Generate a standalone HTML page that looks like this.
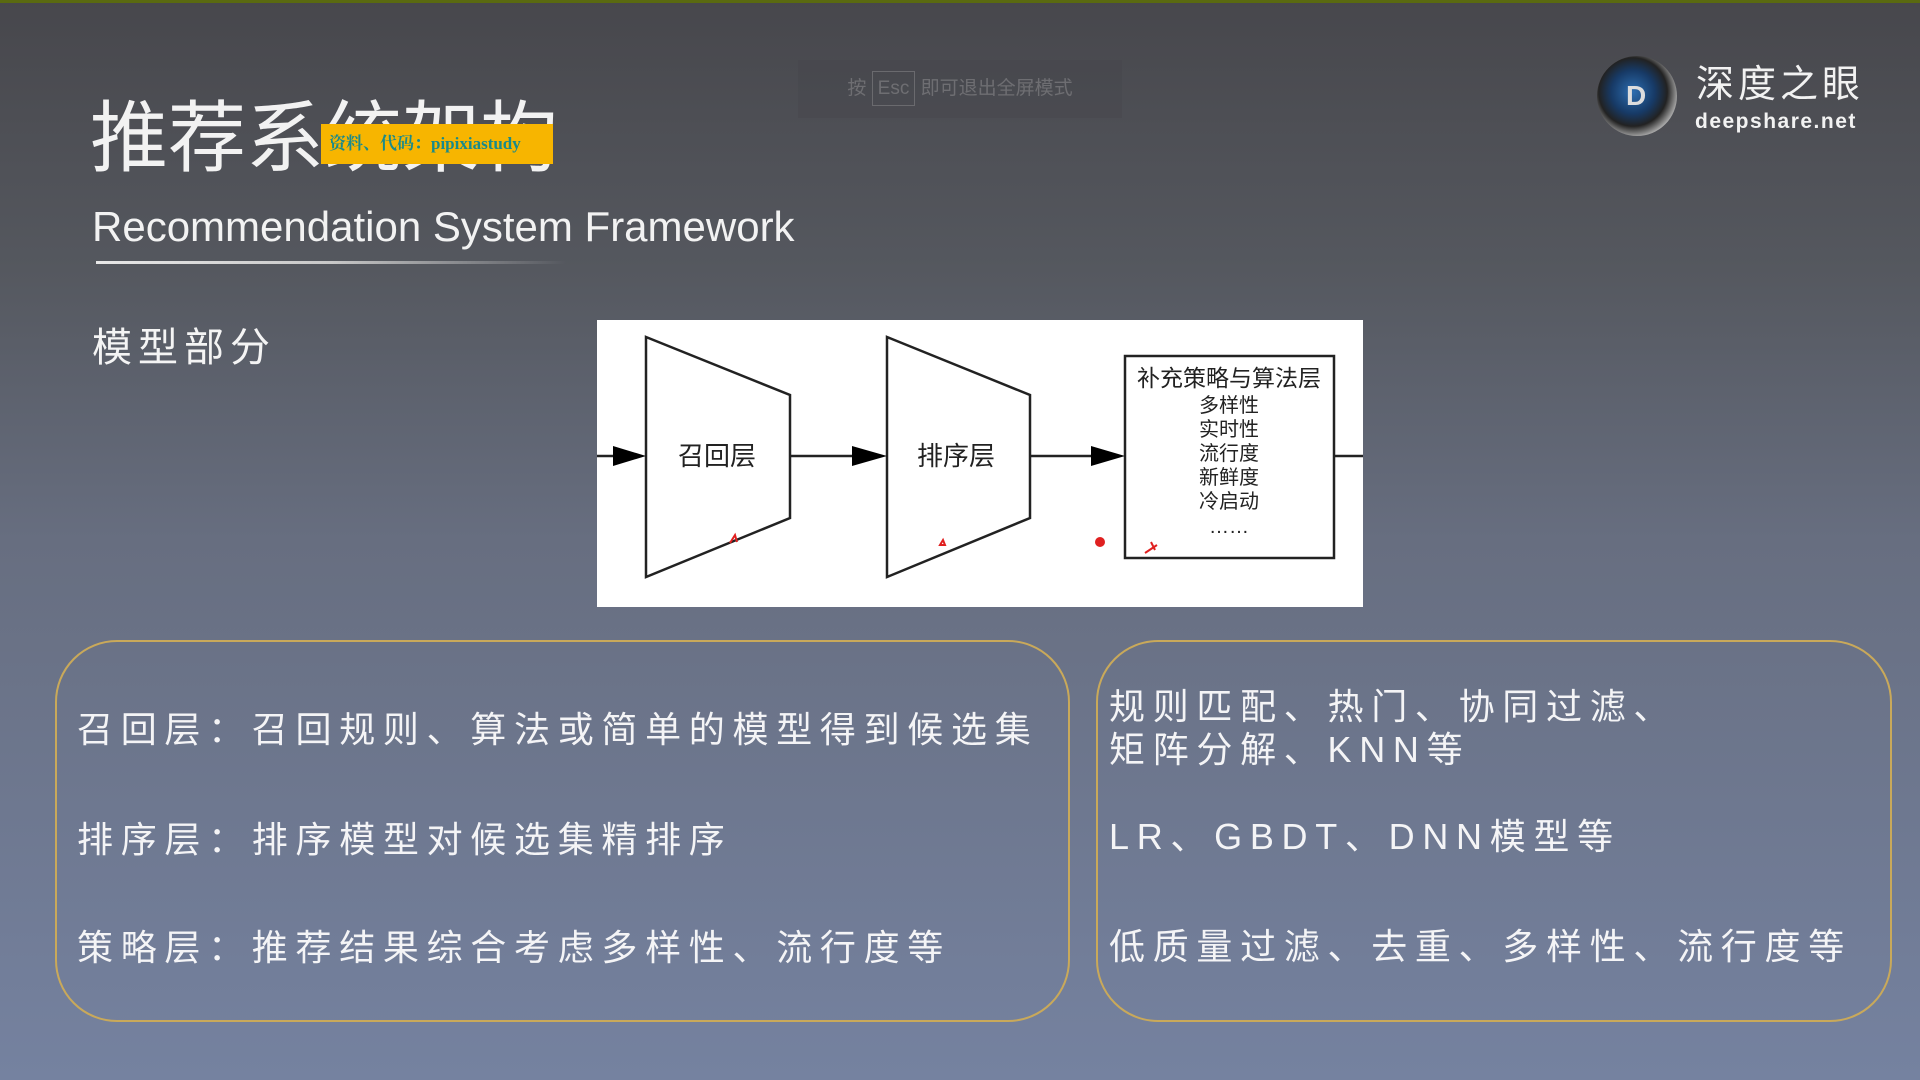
<!DOCTYPE html>
<html><head><meta charset="utf-8"><style>
*{margin:0;padding:0;box-sizing:border-box}
body{width:1920px;height:1080px;overflow:hidden;position:relative;font-family:"Liberation Sans","Noto Sans CJK SC",sans-serif;
background:linear-gradient(180deg,#47474c 0%,#55585f 25%,#676e80 50%,#7582a0 100%);color:#fff}
.a{position:absolute;white-space:nowrap}
.box{position:absolute;border:2px solid #c9a95a;border-radius:62px}
.lt{font-size:36px;letter-spacing:7.7px;color:#f4f4f6}
</style></head><body>
<div class="a" style="left:0;top:0;width:1920px;height:3px;background:#5a6a10"></div>
<div class="a" style="left:90px;top:92px;font-size:78px;line-height:92px;color:#f2f2f2">推荐系统架构</div>
<div class="a" style="left:321px;top:124px;width:232px;height:40px;background:#f7b500;color:#1a8a8a;font-family:'Liberation Serif','Noto Serif CJK SC',serif;font-weight:bold;font-size:17px;line-height:40px;padding-left:8px">资料、代码：pipixiastudy</div>
<div class="a" style="left:92px;top:200px;font-size:42px;line-height:54px;color:#f2f2f2">Recommendation System Framework</div>
<div class="a" style="left:96px;top:261px;width:470px;height:3px;background:linear-gradient(90deg,#e8e8e8,#c8c8c8 50%,rgba(200,200,200,0))"></div>
<div class="a" style="left:798px;top:60px;width:324px;height:58px;background:rgba(70,70,75,0.35);color:#6e6e72;font-size:19px;line-height:58px;text-align:center">按 <span style="border:1px solid #6a6a6e;padding:6px 5px">Esc</span> 即可退出全屏模式</div>
<div class="a" style="left:1597px;top:56px;width:80px;height:80px;border-radius:50%;background:radial-gradient(circle at 45% 45%,#2c6db0 0%,#173a66 35%,#222 55%,#bbb 75%,#555 100%)"></div>
<div class="a" style="left:1626px;top:80px;font-size:28px;font-weight:bold;color:#ddd">D</div>
<div class="a" style="left:1696px;top:62px;font-size:38px;letter-spacing:4px;color:#f2f2f2;line-height:46px">深度之眼</div>
<div class="a" style="left:1695px;top:110px;font-size:21px;letter-spacing:1.5px;font-weight:bold;color:#f2f2f2">deepshare.net</div>
<div class="a" style="left:92px;top:322px;font-size:40px;letter-spacing:6px;line-height:52px;color:#f4f4f4">模型部分</div>
<svg class="a" style="left:597px;top:320px" width="766" height="287" viewBox="597 320 766 287">
<rect x="597" y="320" width="766" height="287" fill="#fff"/>
<g stroke="#222" stroke-width="2.5" fill="none">
<polygon points="646,337 790,395 790,518 646,577"/>
<polygon points="887,337 1030,395 1030,518 887,577"/>
<rect x="1125" y="356" width="209" height="202"/>
<line x1="597" y1="456" x2="620" y2="456"/><line x1="790" y1="456" x2="855" y2="456"/><line x1="1030" y1="456" x2="1095" y2="456"/><line x1="1334" y1="456" x2="1363" y2="456"/>
</g>
<g fill="#000"><polygon points="613,446 646,456 613,466"/><polygon points="852,446 887,456 852,466"/><polygon points="1091,446 1125,456 1091,466"/></g>
<g font-family="Liberation Sans,Noto Sans CJK SC,sans-serif" fill="#222" text-anchor="middle">
<text x="717" y="465" font-size="26">召回层</text>
<text x="956" y="465" font-size="26">排序层</text>
<text x="1229" y="386" font-size="23">补充策略与算法层</text>
<text x="1229" y="412" font-size="20">多样性</text>
<text x="1229" y="436" font-size="20">实时性</text>
<text x="1229" y="460" font-size="20">流行度</text>
<text x="1229" y="484" font-size="20">新鲜度</text>
<text x="1229" y="508" font-size="20">冷启动</text>
<text x="1229" y="533" font-size="20">……</text>
</g>
<circle cx="1100" cy="542" r="5" fill="#e02020"/>
<path d="M730 543 l5 -8 l2 7" stroke="#e02020" stroke-width="2" fill="none"/>
<path d="M940 545 l3 -5 l2 5z" stroke="#e02020" stroke-width="2" fill="none"/>
<path d="M1145 553 l12 -8 m-6 -3 l4 8" stroke="#e02020" stroke-width="2" fill="none"/>
</svg>
<div class="box" style="left:55px;top:640px;width:1015px;height:382px"></div>
<div class="box" style="left:1096px;top:640px;width:796px;height:382px"></div>
<div class="a lt" style="left:77px;top:701px">召回层：召回规则、算法或简单的模型得到候选集</div>
<div class="a lt" style="left:77px;top:811px">排序层：排序模型对候选集精排序</div>
<div class="a lt" style="left:77px;top:919px">策略层：推荐结果综合考虑多样性、流行度等</div>
<div class="a lt" style="left:1109px;top:678px">规则匹配、热门、协同过滤、</div>
<div class="a lt" style="left:1109px;top:721px">矩阵分解、KNN等</div>
<div class="a lt" style="left:1109px;top:808px">LR、GBDT、DNN模型等</div>
<div class="a lt" style="left:1109px;top:918px">低质量过滤、去重、多样性、流行度等</div>
</body></html>
